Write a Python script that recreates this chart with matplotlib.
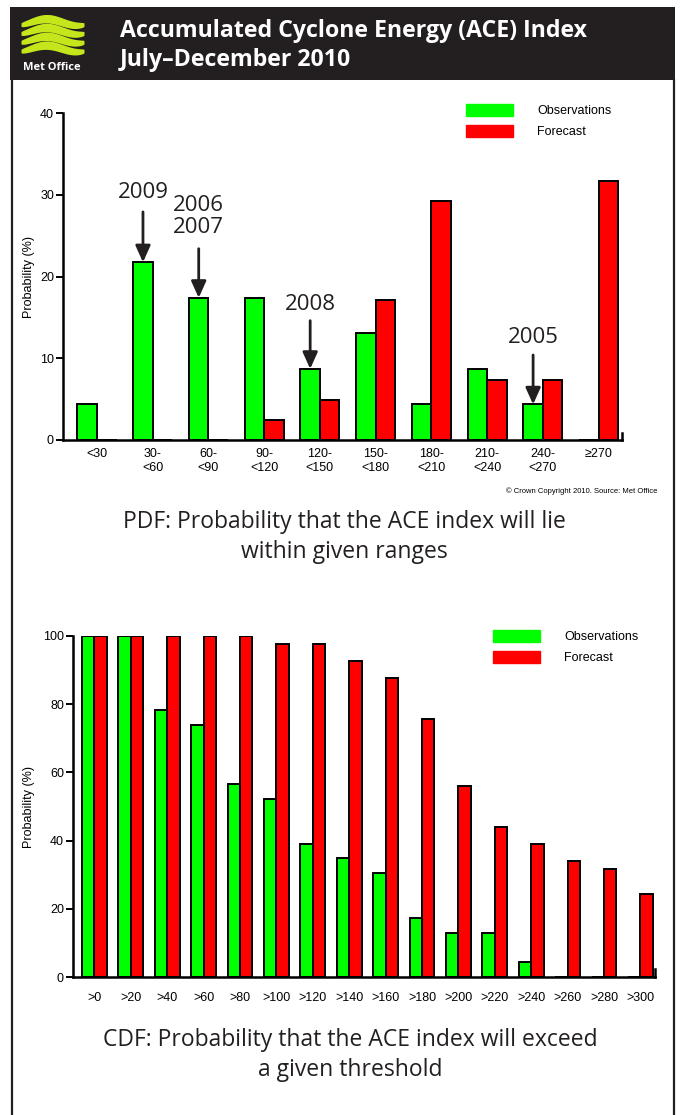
import numpy as np
import matplotlib.pyplot as plt
from matplotlib.patches import Patch, Rectangle
from matplotlib.lines import Line2D

plt.rcParams['font.family'] = ['Liberation Sans', 'DejaVu Sans']

W, H = 681, 1115
dark = '#231f20'
green = '#00ff00'
red = '#ff0000'

# PDF panel
pdf_labels = ['<30', '30-\n<60', '60-\n<90', '90-\n<120', '120-\n<150',
              '150-\n<180', '180-\n<210', '210-\n<240', '240-\n<270', '≥270']
pdf_obs = [4.35, 21.74, 17.39, 17.39, 8.70, 13.04, 4.35, 8.70, 4.35, 0]
pdf_fc = [0, 0, 0, 2.44, 4.88, 17.07, 29.27, 7.32, 7.32, 31.71]

# years marked with arrows (bin index, label, text y, arrow start y)
year_bins = [1, 2, 4, 8]
year_text = ['2009', '2006\n2007', '2008', '2005']
year_text_y = [30.3, 27.3, 16.6, 12.5]
year_arrow_y = [27.9, 23.4, 14.6, 10.4]

# CDF panel
cdf_labels = ['>0', '>20', '>40', '>60', '>80', '>100', '>120', '>140',
              '>160', '>180', '>200', '>220', '>240', '>260', '>280', '>300']
cdf_obs = [100, 100, 78.26, 73.91, 56.52, 52.17, 39.13, 34.78, 30.43,
           17.39, 13.04, 13.04, 4.35, 0, 0, 0]
cdf_fc = [100, 100, 100, 100, 100, 97.56, 97.56, 92.68, 87.80, 75.61,
          56.10, 43.90, 39.02, 34.15, 31.71, 24.39]

fig = plt.figure(figsize=(W / 100, H / 100), dpi=100)


def px_axes(x0, y0, x1, y1):
    return fig.add_axes([x0 / W, 1 - y1 / H, (x1 - x0) / W, (y1 - y0) / H])


def bar_panel(ax, labels, obs, fc, width, xlim, ymax, step, lab_pad):
    x = np.arange(len(labels))
    ax.bar(x - width / 2, obs, width, color=green, edgecolor='black', linewidth=1.4)
    ax.bar(x + width / 2, fc, width, color=red, edgecolor='black', linewidth=1.4)
    ax.set_xlim(*xlim)
    ax.set_ylim(0, ymax)
    ax.set_xticks(x)
    ax.set_xticklabels(labels, fontsize=9, linespacing=1.2)
    ax.set_yticks(np.arange(0, ymax + 1, step))
    ax.tick_params(axis='x', length=0, pad=lab_pad)
    ax.tick_params(axis='y', length=5, width=1.4, pad=1.5, labelsize=9)
    ax.spines['top'].set_visible(False)
    ax.spines['right'].set_bounds(0, ymax * 0.022)
    for s in ['left', 'bottom', 'right']:
        ax.spines[s].set_linewidth(1.8)
    ax.set_ylabel('Probability (%)', fontsize=9)
    ax.set_facecolor('none')


def legend(ax, anchor):
    ax.legend(handles=[Patch(color=green, label='Observations'),
                       Patch(color=red, label='Forecast')],
              loc='upper left', bbox_to_anchor=anchor, frameon=False,
              borderpad=0, borderaxespad=0, handlelength=3.75, handleheight=1.1,
              handletextpad=1.95, labelspacing=0.62, fontsize=9)


# header
fig.add_artist(Rectangle((10 / W, 1 - 80 / H), 665 / W, 73 / H,
                         facecolor=dark, edgecolor='none', transform=fig.transFigure))
fig.add_artist(Line2D([12 / W, 12 / W], [0, 1 - 80 / H], color=dark, lw=1.6))
fig.add_artist(Line2D([673.5 / W, 673.5 / W], [0, 1 - 80 / H], color=dark, lw=1.6))
fig.text(120 / W, 1 - 31 / H, 'Accumulated Cyclone Energy (ACE) Index', color='white',
         fontsize=16.7, fontweight='bold', family='Open Sans', va='center', ha='left')
fig.text(120 / W, 1 - 60 / H, 'July–December 2010', color='white',
         fontsize=16.7, fontweight='bold', family='Open Sans', va='center', ha='left')
fig.text(52 / W, 1 - 68 / H, 'Met Office', color='white', fontsize=8,
         fontweight='bold', family='Open Sans', va='center', ha='center')

# logo waves
lax = px_axes(21, 15, 84, 56)
lax.set_zorder(5)
lax.set_xlim(0, 1)
lax.set_ylim(0, 1)
lax.axis('off')
t = np.linspace(0, 1, 100)
for k in range(4):
    yc = 0.83 - k * 0.215 + 0.08 * np.sin(2 * np.pi * (t - 0.15))
    th = 0.04 + 0.065 * np.sin(np.pi * t) ** 0.5
    lax.fill_between(t, yc - th, yc + th, color='#c6e61c', lw=0)

# PDF panel
ax1 = px_axes(63, 113, 622, 440)
bar_panel(ax1, pdf_labels, pdf_obs, pdf_fc, 0.35, (-0.61, 9.42), 40, 10, 6)
ax1.yaxis.set_label_coords(-0.050, 0.5)
for b, txt, ty, ay in zip(year_bins, year_text, year_text_y, year_arrow_y):
    xb = b - 0.175
    ax1.annotate('', xy=(xb, pdf_obs[b]), xytext=(xb, ay),
                 arrowprops=dict(arrowstyle='-|>,head_length=1.0,head_width=0.45',
                                 color=dark, lw=2, shrinkA=0, shrinkB=0))
    ax1.text(xb, ty, txt, ha='center', va='center', fontsize=16, color=dark,
             family='Open Sans', linespacing=1.05)
legend(ax1, (0.721, 1.027))
fig.text(657 / W, 1 - 491 / H, '© Crown Copyright 2010. Source: Met Office',
         fontsize=5.5, ha='right', va='center')
fig.text(344 / W, 1 - 537 / H, 'PDF: Probability that the ACE index will lie\nwithin given ranges',
         family='Open Sans', fontsize=16.5, ha='center', va='center', color=dark, linespacing=1.32)

# CDF panel
ax2 = px_axes(73, 636, 655, 977)
bar_panel(ax2, cdf_labels, cdf_obs, cdf_fc, 0.34, (-0.59, 15.4), 100, 20, 11)
ax2.yaxis.set_label_coords(-0.065, 0.5)
legend(ax2, (0.722, 1.018))
fig.text(350 / W, 1 - 1055 / H, 'CDF: Probability that the ACE index will exceed\na given threshold',
         family='Open Sans', fontsize=16.5, ha='center', va='center', color=dark, linespacing=1.32)

fig.savefig('out.png', dpi=100)
